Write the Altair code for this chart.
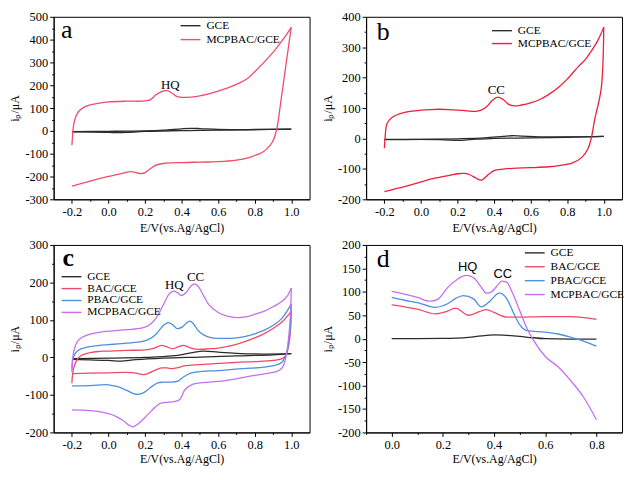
import altair as alt
import pandas as pd

SERIF = "Liberation Serif"
SANS = "Liberation Sans"

# ---------------- Panel a (HQ) ----------------
A_GCE_FWD_X = [-0.2, 0.0, 0.2, 0.3, 0.4, 0.45, 0.5, 0.6, 0.8, 1.0]
A_GCE_FWD_Y = [-3, -2, 0, 3, 9, 11, 10, 6, 6, 8]
A_GCE_REV_X = [1.0, 0.8, 0.6, 0.4, 0.2, 0.1, 0.05, 0.0, -0.2]
A_GCE_REV_Y = [8, 5, 3, 1, -2, -7, -8, -6, -4]
A_MCP_FWD_X = [-0.2, -0.195, -0.19, -0.18, -0.16, -0.13, -0.1, -0.05, 0.0, 0.1, 0.2, 0.23, 0.26,
               0.29, 0.32, 0.345, 0.37, 0.4, 0.45, 0.5, 0.6, 0.7, 0.764, 0.8, 0.9, 0.95, 1.0]
A_MCP_FWD_Y = [-63, -10, 30, 60, 88, 105, 114, 122, 127, 130, 131, 137, 158,
               172, 176, 167, 152, 147, 148, 153, 174, 204, 232, 259, 344, 395, 454]
A_MCP_REV_X = [1.0, 0.97, 0.941, 0.92, 0.897, 0.865, 0.835, 0.8, 0.764, 0.7, 0.6, 0.5, 0.4,
               0.3, 0.26, 0.23, 0.2, 0.18, 0.15, 0.12, 0.08, 0.04, 0.0, -0.1, -0.2]
A_MCP_REV_Y = [454, 285, 117, 6, -49, -80, -97, -108, -118, -128, -135, -137, -139,
               -143, -150, -165, -183, -187, -183, -179, -185, -193, -200, -220, -242]
A_NOTE_TEXT = ["HQ"]
A_NOTE_X = [0.338]
A_NOTE_Y = [203]

# ---------------- Panel b (CC) ----------------
B_GCE_FWD_X = [-0.2, 0.0, 0.2, 0.35, 0.45, 0.5, 0.55, 0.7, 1.0]
B_GCE_FWD_Y = [-4, -3, -1, 2, 7, 9, 8, 5, 7]
B_GCE_REV_X = [1.0, 0.8, 0.6, 0.4, 0.3, 0.22, 0.1, -0.2]
B_GCE_REV_Y = [7, 4, 2, 0, -2, -6, -4, -3]
B_MCP_FWD_X = [-0.2, -0.195, -0.19, -0.18, -0.16, -0.13, -0.1, -0.05, 0.0, 0.05, 0.1, 0.15, 0.2,
               0.25, 0.3, 0.33, 0.36, 0.39, 0.42, 0.45, 0.48, 0.51, 0.55, 0.6, 0.65, 0.7, 0.755,
               0.8, 0.862, 0.9, 0.933, 0.97, 1.0]
B_MCP_FWD_Y = [-32, 10, 40, 55, 68, 78, 84, 90, 93, 95, 96, 95, 93,
               91, 89, 93, 105, 125, 136, 128, 112, 107, 110, 117, 128, 145, 169,
               195, 237, 260, 288, 325, 366]
B_MCP_REV_X = [1.0, 0.986, 0.95, 0.933, 0.915, 0.879, 0.826, 0.755, 0.7, 0.6, 0.5, 0.45, 0.4,
               0.37, 0.33, 0.3, 0.27, 0.24, 0.2, 0.15, 0.1, 0.05, 0.0, -0.05, -0.1, -0.15, -0.2]
B_MCP_REV_Y = [366, 164, 61, 4, -32, -63, -81, -89, -93, -96, -98, -101, -106,
               -118, -137, -130, -120, -115, -116, -122, -128, -134, -143, -152, -160, -167, -175]
B_NOTE_TEXT = ["CC"]
B_NOTE_X = [0.412]
B_NOTE_Y = [159]

# ---------------- Panel c (HQ + CC, CV) ----------------
C_GCE_FWD_X = [-0.2, 0.0, 0.2, 0.35, 0.45, 0.52, 0.6, 0.7, 0.85, 1.0]
C_GCE_FWD_Y = [-3, -2, 0, 4, 12, 17, 14, 11, 9, 10]
C_GCE_REV_X = [1.0, 0.9, 0.7, 0.5, 0.3, 0.15, 0.07, 0.0, -0.2]
C_GCE_REV_Y = [10, 7, 4, 1, -2, -6, -10, -8, -5]
C_BAC_FWD_X = [-0.2, -0.195, -0.185, -0.17, -0.15, -0.1, -0.05, 0.0, 0.1, 0.2, 0.25, 0.29, 0.32,
               0.35, 0.38, 0.41, 0.44, 0.48, 0.55, 0.6, 0.7, 0.8, 0.85, 0.9, 0.95, 1.0]
C_BAC_FWD_Y = [-69, -40, -20, -5, 5, 13, 16, 17, 19, 20, 25, 32, 28,
               23, 28, 32, 27, 22, 23, 25, 35, 52, 63, 77, 95, 123]
C_BAC_REV_X = [1.0, 0.995, 0.985, 0.97, 0.95, 0.9, 0.8, 0.7, 0.6, 0.5, 0.42, 0.38, 0.35, 0.32,
               0.29, 0.26, 0.22, 0.19, 0.15, 0.1, 0.0, -0.1, -0.2]
C_BAC_REV_Y = [123, 70, 30, 5, -3, -8, -11, -13, -16, -19, -22, -27, -30, -28,
               -28, -33, -42, -46, -42, -40, -41, -42, -43]
C_PBAC_FWD_X = [-0.2, -0.195, -0.185, -0.17, -0.15, -0.1, -0.05, 0.0, 0.1, 0.18, 0.22, 0.26, 0.3,
                0.325, 0.35, 0.375, 0.4, 0.43, 0.445, 0.465, 0.49, 0.52, 0.56, 0.6, 0.7, 0.8,
                0.85, 0.9, 0.95, 1.0]
C_PBAC_FWD_Y = [-30, -5, 8, 17, 23, 29, 32, 34, 38, 42, 48, 62, 85,
                93, 88, 77, 80, 93, 97, 90, 72, 60, 53, 51, 52, 63,
                72, 85, 105, 142]
C_PBAC_REV_X = [1.0, 0.995, 0.985, 0.97, 0.95, 0.92, 0.85, 0.7, 0.6, 0.5, 0.45, 0.41, 0.38, 0.34,
                0.3, 0.27, 0.23, 0.2, 0.17, 0.14, 0.1, 0.05, 0.0, -0.1, -0.2]
C_PBAC_REV_Y = [142, 80, 35, 5, -12, -20, -26, -31, -35, -38, -42, -52, -63, -66,
                -66, -68, -80, -92, -98, -97, -88, -78, -73, -75, -76]
C_MCP_FWD_X = [-0.2, -0.195, -0.185, -0.17, -0.15, -0.1, -0.05, 0.0, 0.1, 0.18, 0.22, 0.26, 0.3,
               0.33, 0.355, 0.38, 0.4, 0.43, 0.45, 0.47, 0.49, 0.52, 0.55, 0.6, 0.65, 0.7, 0.75,
               0.8, 0.85, 0.9, 0.95, 0.98, 1.0]
C_MCP_FWD_Y = [-39, 0, 25, 42, 52, 62, 67, 70, 74, 78, 85, 105, 140,
               168, 177, 172, 165, 176, 190, 196, 190, 165, 140, 120, 110, 106, 108,
               115, 123, 135, 150, 165, 185]
C_MCP_REV_X = [1.0, 0.995, 0.985, 0.97, 0.95, 0.92, 0.9, 0.8, 0.7, 0.6, 0.5, 0.46, 0.42, 0.39,
               0.36, 0.32, 0.28, 0.24, 0.2, 0.16, 0.135, 0.11, 0.08, 0.04, 0.0, -0.1, -0.2]
C_MCP_REV_Y = [185, 110, 50, 0, -28, -38, -40, -48, -57, -64, -68, -72, -85, -112,
               -118, -120, -123, -140, -160, -178, -185, -180, -168, -157, -150, -142, -140]
C_NOTE_TEXT = ["HQ", "CC"]
C_NOTE_X = [0.36, 0.476]
C_NOTE_Y = [194, 215]

# ---------------- Panel d (DPV) ----------------
D_GCE_X = [0.0, 0.1, 0.2, 0.3, 0.35, 0.4, 0.45, 0.5, 0.55, 0.6, 0.7, 0.8]
D_GCE_Y = [0, 0, 0.5, 3, 6, 8, 7, 5, 2, 0, -1, -1]
D_BAC_X = [0.0, 0.05, 0.1, 0.17, 0.21, 0.25, 0.3, 0.34, 0.37, 0.4, 0.45, 0.5, 0.6, 0.7, 0.8]
D_BAC_Y = [72, 68, 63, 53, 57, 65, 50, 57, 62, 56, 46, 46, 47, 47, 41]
D_PBAC_X = [0.0, 0.05, 0.1, 0.17, 0.22, 0.25, 0.28, 0.32, 0.35, 0.38, 0.42, 0.45, 0.48, 0.5,
            0.53, 0.6, 0.65, 0.7, 0.75, 0.8]
D_PBAC_Y = [88, 82, 77, 67, 75, 86, 92, 85, 68, 78, 97, 85, 50, 30,
            17, 14, 10, 3, -5, -16]
D_MCP_X = [0.0, 0.05, 0.1, 0.15, 0.18, 0.22, 0.26, 0.29, 0.32, 0.35, 0.37, 0.39, 0.42, 0.43,
           0.45, 0.47, 0.5, 0.53, 0.55, 0.6, 0.65, 0.7, 0.75, 0.8]
D_MCP_Y = [101, 95, 88, 80, 84, 110, 128, 135, 130, 110, 97, 100, 118, 123,
           120, 100, 60, 20, 0, -38, -60, -90, -125, -173]
D_NOTE_TEXT = ["HQ", "CC"]
D_NOTE_X = [0.297, 0.434]
D_NOTE_Y = [153, 138]

# ---------------- panel letters ----------------
LETTERS = ["a", "b", "c", "d"]
LETTER_X = [-0.228, -0.207, -0.22, -0.033]
LETTER_Y = [442, 350, 265, 170]

GCE_COLOR = "#2b2b2b"
RED_A = "#f24b6b"
RED_B = "#ee1f3a"
RED_C = "#f04a68"
BLUE = "#4d8fe0"
VIOLET = "#c470ee"

W = 258
H_TOP, H_BOTTOM = 184, 189
XT = "E/V(vs.Ag/AgCl)"
YT = "i\u209a/\u03bcA"


def rows_of(series_list):
    rows = []
    for name, branch, xs, ys in series_list:
        for i, (x, y) in enumerate(zip(xs, ys)):
            rows.append({"series": name, "branch": name + branch, "i": i, "x": x, "y": y})
    return pd.DataFrame(rows)


def x_axis(majors, minors, title_pad):
    return alt.Axis(
        values=sorted(majors + minors), title=XT, grid=False, labelOverlap=False,
        labelExpr="abs(round(datum.value*10)) % 2 == 0 ? (datum.value < -0.001 ? '-' : '') + format(abs(datum.value), '.1f') : ''",
        tickSize={"condition": {"test": "abs(round(datum.value*10)) % 2 == 0", "value": 4}, "value": 2},
        titlePadding=title_pad,
        labelFont=SERIF, labelFontSize=12.5, labelColor="black", labelPadding=2,
        titleFont=SERIF, titleFontSize=12, titleFontWeight="normal", titleColor="black",
        domainColor="black", tickColor="black",
    )


def y_axis(lo, hi, step):
    vals = list(range(lo, hi + 1, step // 2))
    return alt.Axis(
        values=vals, title=YT, grid=False, labelOverlap=False,
        labelExpr=f"datum.value % {step} == 0 ? (datum.value < 0 ? '-' : '') + format(abs(datum.value), 'd') : ''",
        tickSize={"condition": {"test": f"datum.value % {step} == 0", "value": 4}, "value": 2},
        titlePadding=3,
        labelFont=SERIF, labelFontSize=12.5, labelColor="black", labelPadding=2,
        titleFont=SERIF, titleFontSize=12, titleFontWeight="normal", titleColor="black",
        domainColor="black", tickColor="black",
    )


def panel(df, xdom, ydom, xaxis, yaxis, names, colors, legend_xy, row_pad, interp,
          notes, note_font, letter_idx, height, letter_weight="normal"):
    xs = alt.Scale(domain=xdom, nice=False, zero=False)
    ys = alt.Scale(domain=ydom, nice=False, zero=False)
    X = alt.X("x:Q", scale=xs, axis=xaxis)
    Y = alt.Y("y:Q", scale=ys, axis=yaxis)
    lines = alt.Chart(df).mark_line(strokeWidth=1.3, interpolate=interp).encode(
        x=X, y=Y,
        color=alt.Color("series:N", scale=alt.Scale(domain=names, range=colors), title=None,
                        legend=alt.Legend(orient="none", legendX=legend_xy[0], legendY=legend_xy[1],
                                          symbolType="M-2,0H2", symbolSize=100,
                                          symbolStrokeWidth=1.4, labelOffset=10,
                                          labelFont=SERIF, labelFontSize=11.5, labelColor="black",
                                          rowPadding=row_pad, padding=0)),
        detail="branch:N",
        order="i:Q",
    )
    ntext, nx, ny = notes
    ndf = pd.DataFrame({"t": ntext, "x": nx, "y": ny})
    note_layer = alt.Chart(ndf).mark_text(font=note_font, fontSize=13, color="black",
                                          baseline="middle").encode(x=X, y=Y, text="t:N")
    ldf = pd.DataFrame({"t": [LETTERS[letter_idx]], "x": [LETTER_X[letter_idx]],
                        "y": [LETTER_Y[letter_idx]]})
    letter_layer = alt.Chart(ldf).mark_text(font=SERIF, fontSize=26, color="black",
                                            fontWeight=letter_weight, baseline="middle").encode(
        x=X, y=Y, text="t:N")
    return alt.layer(lines, note_layer, letter_layer).properties(width=W, height=height)


XMAJ = [-0.2, 0.0, 0.2, 0.4, 0.6, 0.8, 1.0]
XMIN = [-0.1, 0.1, 0.3, 0.5, 0.7, 0.9]
DMAJ = [0.0, 0.2, 0.4, 0.6, 0.8]
DMIN = [-0.1, 0.1, 0.3, 0.5, 0.7]

df_a = rows_of([("GCE", "f", A_GCE_FWD_X, A_GCE_FWD_Y), ("GCE", "r", A_GCE_REV_X, A_GCE_REV_Y),
                ("MCPBAC/GCE", "f", A_MCP_FWD_X, A_MCP_FWD_Y), ("MCPBAC/GCE", "r", A_MCP_REV_X, A_MCP_REV_Y)])
df_b = rows_of([("GCE", "f", B_GCE_FWD_X, B_GCE_FWD_Y), ("GCE", "r", B_GCE_REV_X, B_GCE_REV_Y),
                ("MCPBAC/GCE", "f", B_MCP_FWD_X, B_MCP_FWD_Y), ("MCPBAC/GCE", "r", B_MCP_REV_X, B_MCP_REV_Y)])
df_c = rows_of([("GCE", "f", C_GCE_FWD_X, C_GCE_FWD_Y), ("GCE", "r", C_GCE_REV_X, C_GCE_REV_Y),
                ("BAC/GCE", "f", C_BAC_FWD_X, C_BAC_FWD_Y), ("BAC/GCE", "r", C_BAC_REV_X, C_BAC_REV_Y),
                ("PBAC/GCE", "f", C_PBAC_FWD_X, C_PBAC_FWD_Y), ("PBAC/GCE", "r", C_PBAC_REV_X, C_PBAC_REV_Y),
                ("MCPBAC/GCE", "f", C_MCP_FWD_X, C_MCP_FWD_Y), ("MCPBAC/GCE", "r", C_MCP_REV_X, C_MCP_REV_Y)])
df_d = rows_of([("GCE", "", D_GCE_X, D_GCE_Y), ("BAC/GCE", "", D_BAC_X, D_BAC_Y),
                ("PBAC/GCE", "", D_PBAC_X, D_PBAC_Y), ("MCPBAC/GCE", "", D_MCP_X, D_MCP_Y)])

four = ["GCE", "BAC/GCE", "PBAC/GCE", "MCPBAC/GCE"]

pa = panel(df_a, [-0.3, 1.1], [-300, 500], x_axis(XMAJ, XMIN, 5), y_axis(-300, 500, 100),
           ["GCE", "MCPBAC/GCE"], [GCE_COLOR, RED_A], (132, 3), 2, "catmull-rom",
           (A_NOTE_TEXT, A_NOTE_X, A_NOTE_Y), SERIF, 0, H_TOP)
pb = panel(df_b, [-0.3, 1.1], [-200, 400], x_axis(XMAJ, XMIN, 5), y_axis(-200, 400, 100),
           ["GCE", "MCPBAC/GCE"], [GCE_COLOR, RED_B], (131, 8), 1, "catmull-rom",
           (B_NOTE_TEXT, B_NOTE_X, B_NOTE_Y), SERIF, 1, H_TOP)
pc = panel(df_c, [-0.3, 1.1], [-200, 300], x_axis(XMAJ, XMIN, 3), y_axis(-200, 300, 100),
           four, [GCE_COLOR, RED_C, BLUE, VIOLET], (12, 26), 0, "catmull-rom",
           (C_NOTE_TEXT, C_NOTE_X, C_NOTE_Y), SERIF, 2, H_BOTTOM, "bold")
pd_ = panel(df_d, [-0.1, 0.9], [-200, 200], x_axis(DMAJ, DMIN, 3), y_axis(-200, 200, 50),
            four, [GCE_COLOR, RED_C, BLUE, VIOLET], (164, 2), 2, "monotone",
            (D_NOTE_TEXT, D_NOTE_X, D_NOTE_Y), SANS, 3, H_BOTTOM)

chart = alt.vconcat(
    alt.hconcat(pa, pb, spacing=10).resolve_scale(color="independent"),
    alt.hconcat(pc, pd_, spacing=10).resolve_scale(color="independent"),
    spacing=4,
).resolve_scale(
    color="independent"
).properties(
    padding={"left": 0, "top": 0, "right": 0, "bottom": 0},
    background="white",
).configure_view(
    stroke="black", strokeWidth=1
)

chart.save("out.html", embed_options={"renderer": "svg", "actions": False})
